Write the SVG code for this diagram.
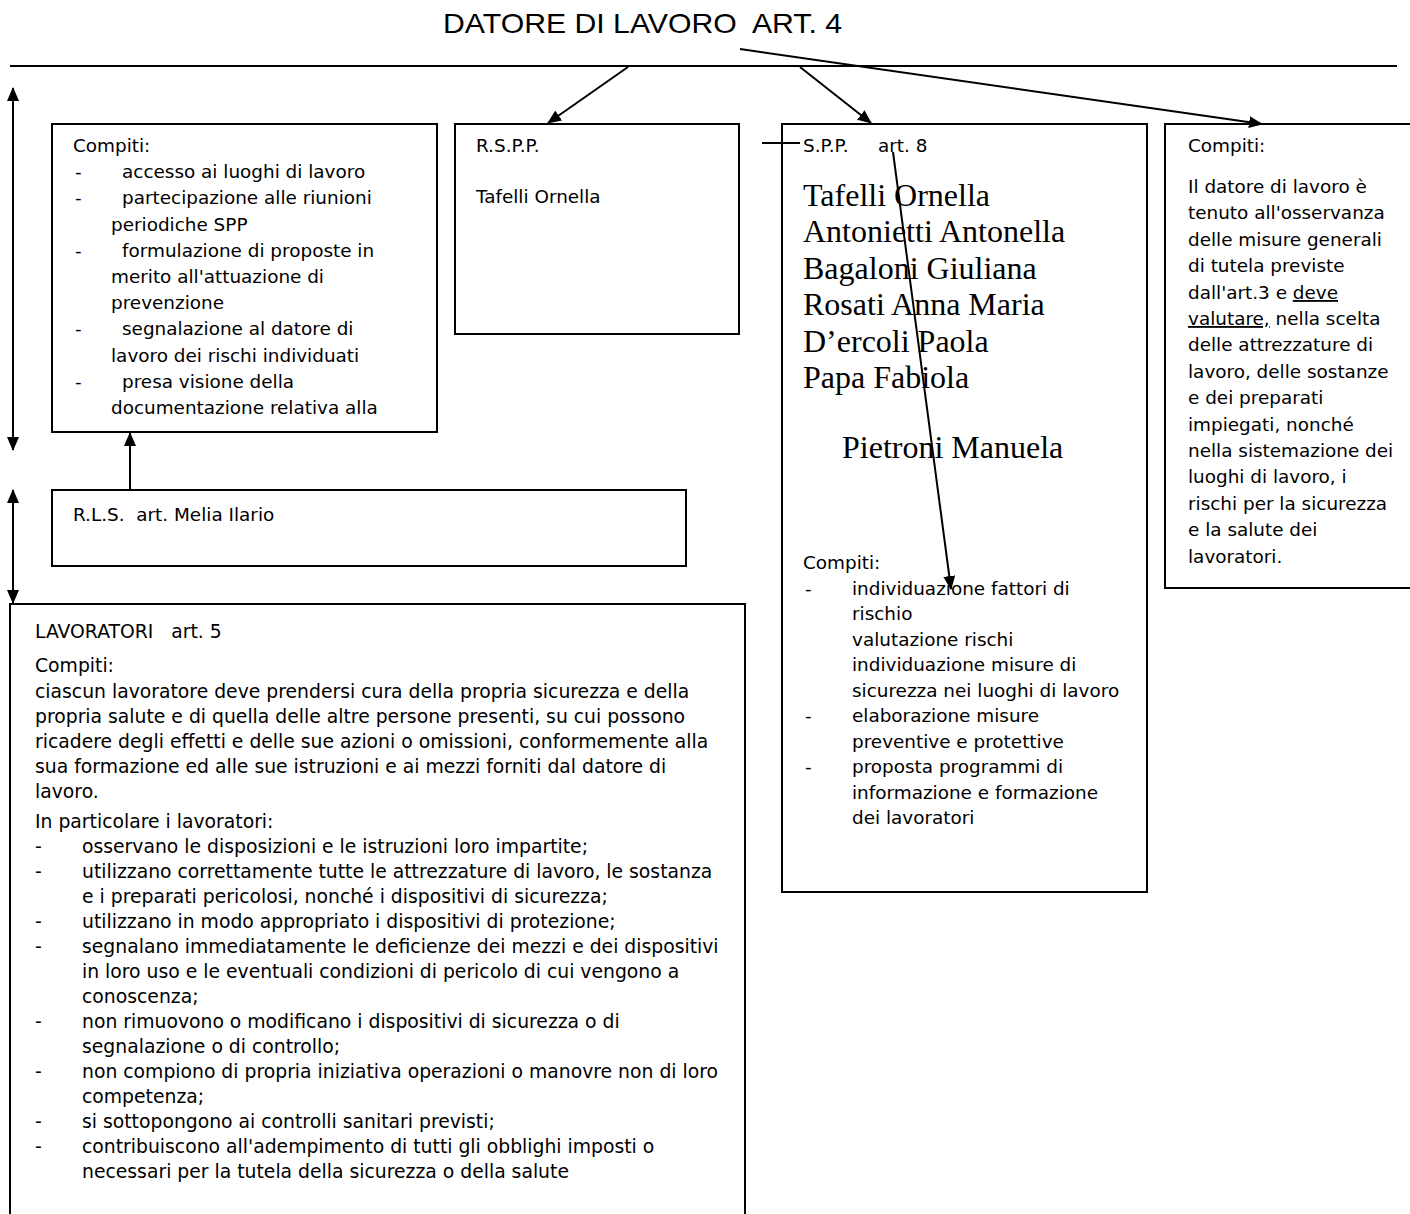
<svg xmlns="http://www.w3.org/2000/svg" width="1410" height="1214" viewBox="0 0 1410 1214">
<style>
.box{fill:#fff;stroke:#000;stroke-width:2}
.t{font-family:"DejaVu Sans",Verdana,sans-serif;font-size:18.4px;fill:#000}
.l{font-size:18.8px}
.s{font-family:"Liberation Serif","Times New Roman",serif;font-size:32px;fill:#000}
.title{font-family:"Liberation Sans",Arial,sans-serif;font-size:28px;fill:#000}
.c{fill:none;stroke:#000;stroke-width:2}
.u{text-decoration:underline}
</style>
<defs>
<marker id="ah" markerUnits="userSpaceOnUse" markerWidth="14" markerHeight="12" refX="13" refY="6" orient="auto-start-reverse">
<path d="M0,0 L14,6 L0,12 z" fill="#000"/>
</marker>
</defs>
<rect width="1410" height="1214" fill="#fff"/>

<g id="title">
<text class="title" x="443" y="33" textLength="399" lengthAdjust="spacingAndGlyphs" xml:space="preserve">DATORE DI LAVORO  ART. 4</text>
<line x1="10" y1="66" x2="1397" y2="66" class="c"/>
</g>

<g id="rls-compiti">
<rect class="box" x="52" y="124" width="385" height="308"/>
<text class="t" x="73" y="152">Compiti:</text>
<text class="t" x="75" y="178">-</text><text class="t" x="122" y="178">accesso ai luoghi di lavoro</text>
<text class="t" x="75" y="204">-</text><text class="t" x="122" y="204">partecipazione alle riunioni</text>
<text class="t" x="111" y="231">periodiche SPP</text>
<text class="t" x="75" y="257">-</text><text class="t" x="122" y="257">formulazione di proposte in</text>
<text class="t" x="111" y="283">merito all'attuazione di</text>
<text class="t" x="111" y="309">prevenzione</text>
<text class="t" x="75" y="335">-</text><text class="t" x="122" y="335">segnalazione al datore di</text>
<text class="t" x="111" y="362">lavoro dei rischi individuati</text>
<text class="t" x="75" y="388">-</text><text class="t" x="122" y="388">presa visione della</text>
<text class="t" x="111" y="414">documentazione relativa alla</text>
</g>

<g id="rspp">
<rect class="box" x="455" y="124" width="284" height="210"/>
<text class="t" x="476" y="152">R.S.P.P.</text>
<text class="t" x="476" y="203">Tafelli Ornella</text>
</g>

<g id="spp">
<rect class="box" x="782" y="124" width="365" height="768"/>
<text class="t" x="803" y="152">S.P.P.</text><text class="t" x="878" y="152">art. 8</text>
<text class="s" x="803" y="206">Tafelli Ornella</text>
<text class="s" x="803" y="242">Antonietti Antonella</text>
<text class="s" x="803" y="279">Bagaloni Giuliana</text>
<text class="s" x="803" y="315">Rosati Anna Maria</text>
<text class="s" x="803" y="352">D’ercoli Paola</text>
<text class="s" x="803" y="388">Papa Fabiola</text>
<text class="s" x="842" y="458">Pietroni Manuela</text>
<text class="t" x="803" y="569">Compiti:</text>
<text class="t" x="805" y="595">-</text><text class="t" x="852" y="595">individuazione fattori di</text>
<text class="t" x="852" y="620">rischio</text>
<text class="t" x="852" y="646">valutazione rischi</text>
<text class="t" x="852" y="671">individuazione misure di</text>
<text class="t" x="852" y="697">sicurezza nei luoghi di lavoro</text>
<text class="t" x="805" y="722">-</text><text class="t" x="852" y="722">elaborazione misure</text>
<text class="t" x="852" y="748">preventive e protettive</text>
<text class="t" x="805" y="773">-</text><text class="t" x="852" y="773">proposta programmi di</text>
<text class="t" x="852" y="799">informazione e formazione</text>
<text class="t" x="852" y="824">dei lavoratori</text>
</g>

<g id="datore-compiti">
<rect class="box" x="1165" y="124" width="260" height="464"/>
<text class="t" x="1188" y="152">Compiti:</text>
<text class="t" x="1188" y="193">Il datore di lavoro è</text>
<text class="t" x="1188" y="219">tenuto all'osservanza</text>
<text class="t" x="1188" y="246">delle misure generali</text>
<text class="t" x="1188" y="272">di tutela previste</text>
<text class="t" x="1188" y="299">dall'art.3 e <tspan class="u">deve</tspan></text>
<text class="t" x="1188" y="325"><tspan class="u">valutare,</tspan> nella scelta</text>
<text class="t" x="1188" y="351">delle attrezzature di</text>
<text class="t" x="1188" y="378">lavoro, delle sostanze</text>
<text class="t" x="1188" y="404">e dei preparati</text>
<text class="t" x="1188" y="431">impiegati, nonché</text>
<text class="t" x="1188" y="457">nella sistemazione dei</text>
<text class="t" x="1188" y="483">luoghi di lavoro, i</text>
<text class="t" x="1188" y="510">rischi per la sicurezza</text>
<text class="t" x="1188" y="536">e la salute dei</text>
<text class="t" x="1188" y="563">lavoratori.</text>
</g>

<g id="rls">
<rect class="box" x="52" y="490" width="634" height="76"/>
<text class="t" x="73" y="521" xml:space="preserve">R.L.S.  art. Melia Ilario</text>
</g>

<g id="lavoratori">
<rect class="box" x="10" y="604" width="735" height="620"/>
<text class="t l" x="35" y="638" xml:space="preserve">LAVORATORI   art. 5</text>
<text class="t l" x="35" y="672">Compiti:</text>
<text class="t l" x="35" y="698">ciascun lavoratore deve prendersi cura della propria sicurezza e della</text>
<text class="t l" x="35" y="723">propria salute e di quella delle altre persone presenti, su cui possono</text>
<text class="t l" x="35" y="748">ricadere degli effetti e delle sue azioni o omissioni, conformemente alla</text>
<text class="t l" x="35" y="773">sua formazione ed alle sue istruzioni e ai mezzi forniti dal datore di</text>
<text class="t l" x="35" y="798">lavoro.</text>
<text class="t l" x="35" y="828">In particolare i lavoratori:</text>
<text class="t l" x="35" y="853">-</text><text class="t l" x="82" y="853">osservano le disposizioni e le istruzioni loro impartite;</text>
<text class="t l" x="35" y="878">-</text><text class="t l" x="82" y="878">utilizzano correttamente tutte le attrezzature di lavoro, le sostanza</text>
<text class="t l" x="82" y="903">e i preparati pericolosi, nonché i dispositivi di sicurezza;</text>
<text class="t l" x="35" y="928">-</text><text class="t l" x="82" y="928">utilizzano in modo appropriato i dispositivi di protezione;</text>
<text class="t l" x="35" y="953">-</text><text class="t l" x="82" y="953">segnalano immediatamente le deficienze dei mezzi e dei dispositivi</text>
<text class="t l" x="82" y="978">in loro uso e le eventuali condizioni di pericolo di cui vengono a</text>
<text class="t l" x="82" y="1003">conoscenza;</text>
<text class="t l" x="35" y="1028">-</text><text class="t l" x="82" y="1028">non rimuovono o modificano i dispositivi di sicurezza o di</text>
<text class="t l" x="82" y="1053">segnalazione o di controllo;</text>
<text class="t l" x="35" y="1078">-</text><text class="t l" x="82" y="1078">non compiono di propria iniziativa operazioni o manovre non di loro</text>
<text class="t l" x="82" y="1103">competenza;</text>
<text class="t l" x="35" y="1128">-</text><text class="t l" x="82" y="1128">si sottopongono ai controlli sanitari previsti;</text>
<text class="t l" x="35" y="1153">-</text><text class="t l" x="82" y="1153">contribuiscono all'adempimento di tutti gli obblighi imposti o</text>
<text class="t l" x="82" y="1178">necessari per la tutela della sicurezza o della salute</text>
</g>

<g id="connectors">
<line class="c" x1="628" y1="67" x2="548" y2="123" marker-end="url(#ah)"/>
<line class="c" x1="800" y1="67" x2="871" y2="123" marker-end="url(#ah)"/>
<line class="c" x1="740" y1="49" x2="1262" y2="124" marker-end="url(#ah)"/>
<line class="c" x1="762" y1="143" x2="800" y2="143"/>
<line class="c" x1="893" y1="152" x2="951" y2="589" marker-end="url(#ah)"/>
<line class="c" x1="13" y1="88" x2="13" y2="450" marker-start="url(#ah)" marker-end="url(#ah)"/>
<line class="c" x1="13" y1="490" x2="13" y2="603" marker-start="url(#ah)" marker-end="url(#ah)"/>
<line class="c" x1="130" y1="490" x2="130" y2="433" marker-end="url(#ah)"/>
</g>
</svg>
